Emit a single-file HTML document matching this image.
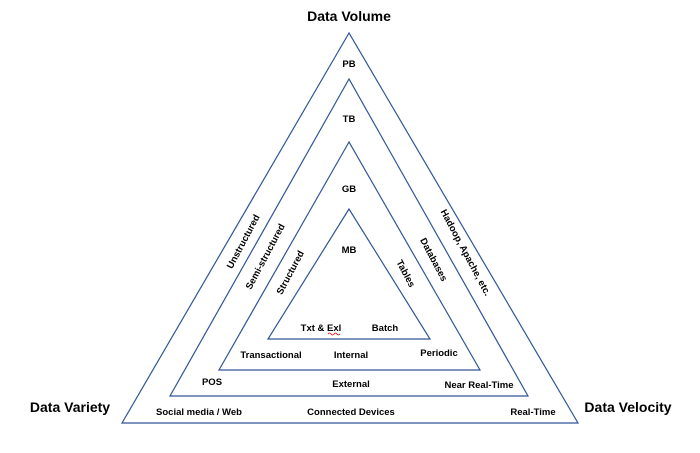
<!DOCTYPE html>
<html><head><meta charset="utf-8"><style>
html,body{margin:0;padding:0;background:#fff;}
svg text{font-family:"Liberation Sans",sans-serif;font-weight:bold;fill:#000;}
</style></head><body>
<svg width="700" height="448" viewBox="0 0 700 448" xmlns="http://www.w3.org/2000/svg">
<g fill="none" stroke="#2f5597" stroke-width="1.2">
<polygon points="349,33 122,423 578,423"/>
<polygon points="349,79 170,396 528,396"/>
<polygon points="349,142 219,370 480,370"/>
<polygon points="349,209 268,339 430,339"/>
</g>
<g font-size="14" text-anchor="middle">
<text x="349" y="21">Data Volume</text>
<text x="70" y="412">Data Variety</text>
<text x="628" y="412">Data Velocity</text>
</g>
<g font-size="9.5" text-anchor="middle">
<text x="349" y="67">PB</text>
<text x="349" y="122">TB</text>
<text x="349" y="192">GB</text>
<text x="349" y="253">MB</text>
<text x="321" y="331">Txt &amp; Exl</text>
<text x="385" y="331">Batch</text>
<text x="271" y="358">Transactional</text>
<text x="351" y="358">Internal</text>
<text x="439" y="356">Periodic</text>
<text x="212" y="385">POS</text>
<text x="351" y="387">External</text>
<text x="479" y="388">Near Real-Time</text>
<text x="199" y="415">Social media / Web</text>
<text x="351" y="415">Connected Devices</text>
<text x="533" y="415">Real-Time</text>
<text transform="translate(246,243) rotate(-62)">Unstructured</text>
<text transform="translate(268,258) rotate(-62)">Semi-structured</text>
<text transform="translate(293,274) rotate(-62)">Structured</text>
<text transform="translate(403,275) rotate(62)">Tables</text>
<text transform="translate(431,261) rotate(62)">Databases</text>
<text transform="translate(463,254) rotate(62)">Hadoop, Apache, etc.</text>
</g>
<path d="M328,334 q1.5,-2 3,0 t3,0 t3,0 t3,0" stroke="#e00" stroke-width="0.8" fill="none"/>
</svg>
</body></html>
